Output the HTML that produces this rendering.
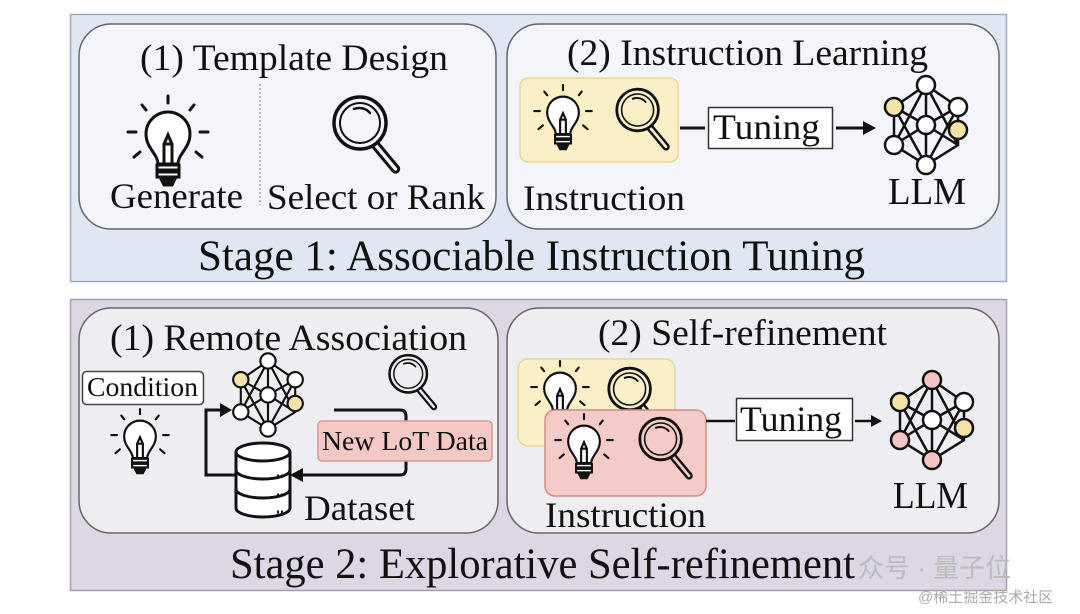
<!DOCTYPE html>
<html><head><meta charset="utf-8"><style>
html,body{margin:0;padding:0;background:#fff;}
svg text{font-family:"Liberation Serif",serif;fill:#111;}
</style></head><body>
<svg width="1080" height="609" viewBox="0 0 1080 609" xmlns="http://www.w3.org/2000/svg">
<defs>
<g id="bulb" fill="none" stroke="#111" stroke-width="3" stroke-linecap="round">
  <path d="M-10,14 C-10,4 -22,-2 -22,-16 A22,22 0 1 1 22,-16 C22,-2 10,4 10,14 Z" fill="#fff"/>
  <rect x="-11" y="15" width="22" height="5" fill="#fff"/>
  <rect x="-11" y="22" width="22" height="5" fill="#fff"/>
  <path d="M-7,29 h14 l-3,6 h-8z" fill="#111"/>
  <path d="M-4,14 v-20 l4,-9 l4,9 v20 M-4,-6 h8"/>
  <path d="M0,-47 v-7 M-22,-40 l-4,-5 M22,-40 l4,-5 M-32,-18 h-8 M32,-18 h8 M-28,2 l-6,5 M28,2 l6,5"/>
</g>
<g id="mag" fill="none" stroke="#111" stroke-width="3.5" stroke-linecap="round">
  <circle cx="-8" cy="-10" r="26"/>
  <circle cx="-8" cy="-10" r="20" stroke-width="2"/>
  <path d="M-14,-24 a14,14 0 0 1 16,4" stroke-width="2.5"/>
  <path d="M10,10 l20,24 a3,3 0 0 1 -5,4 l-20,-24" stroke-width="3"/>
</g>
<g id="netlines" stroke="#111" stroke-width="2.5" fill="none">
  <path d="M0,-40 L-32,-18 L-32,20 L0,40 L32,20 L32,-18 Z M0,-40 L0,0 L0,40 M-32,-18 L0,0 L32,20 M32,-18 L0,0 L-32,20 M0,-40 L-32,20 M0,-40 L32,20 M0,40 L-32,-18 M0,40 L32,-18"/>
</g>
<g id="db" fill="#fff" stroke="#111" stroke-width="3">
  <path d="M-27,-24 v56 a27,9 0 0 0 54,0 v-56"/>
  <ellipse cx="0" cy="-24" rx="27" ry="9"/>
  <path d="M-27,-6 a27,9 0 0 0 54,0 M-27,13 a27,9 0 0 0 54,0" fill="none"/>
  <path d="M14,0 h6 M14,19 h6 M14,36 h6" stroke-dasharray="2 2"/>
</g>
</defs>

<!-- Stage 1 -->
<rect x="70.5" y="14.5" width="936" height="267" fill="#dfe7f4" stroke="#9eaabb" stroke-width="1.5"/>
<rect x="79" y="24" width="417" height="205" rx="32" fill="#f3f5fa" stroke="#666" stroke-width="1.5"/>
<rect x="507" y="24" width="492" height="205" rx="32" fill="#f3f5fa" stroke="#666" stroke-width="1.5"/>
<text x="140" y="70" font-size="37" textLength="308" lengthAdjust="spacingAndGlyphs">(1) Template Design</text>
<use href="#bulb" transform="translate(168,150)"/>
<line x1="260" y1="84" x2="260" y2="205" stroke="#777" stroke-width="1" stroke-dasharray="2 2"/>
<use href="#mag" transform="translate(368,133)"/>
<text x="110" y="208" font-size="36" textLength="133" lengthAdjust="spacingAndGlyphs">Generate</text>
<text x="267" y="209" font-size="36" textLength="218" lengthAdjust="spacingAndGlyphs">Select or Rank</text>

<text x="567" y="65" font-size="37" textLength="361" lengthAdjust="spacingAndGlyphs">(2) Instruction Learning</text>
<rect x="520" y="78" width="158" height="84" rx="8" fill="#fbefc6" stroke="#e6d69c" stroke-width="1.5"/>
<use href="#bulb" transform="translate(563,124) scale(0.72)"/>
<use href="#mag" transform="translate(644,118) scale(0.8)"/>
<line x1="680" y1="128" x2="705" y2="128" stroke="#111" stroke-width="3"/>
<rect x="708.5" y="107.5" width="124" height="41" fill="#fff" stroke="#333" stroke-width="1.5"/>
<text x="713" y="139" font-size="36" textLength="107" lengthAdjust="spacingAndGlyphs">Tuning</text>
<line x1="836" y1="128" x2="864" y2="128" stroke="#111" stroke-width="3"/>
<path d="M876,128 l-13,-7 v14z" fill="#111"/>
<g transform="translate(926,125)">
  <use href="#netlines"/>
  <g stroke="#111" stroke-width="2.5" fill="#fff">
  <circle cx="0" cy="-40" r="9"/><circle cx="-32" cy="-18" r="9" fill="#f3e4a6"/><circle cx="-32" cy="20" r="9"/>
  <circle cx="0" cy="0" r="9"/><circle cx="32" cy="-18" r="9" fill="#fff"/><circle cx="32" cy="5" r="9" fill="#f3e4a6"/><circle cx="0" cy="40" r="9"/>
  </g>
</g>
<text x="888" y="204" font-size="38" textLength="78" lengthAdjust="spacingAndGlyphs">LLM</text>
<text x="523" y="210" font-size="36" textLength="162" lengthAdjust="spacingAndGlyphs">Instruction</text>
<text x="198" y="270" font-size="43" textLength="667" lengthAdjust="spacingAndGlyphs">Stage 1: Associable Instruction Tuning</text>

<!-- Stage 2 -->
<rect x="70.5" y="299.5" width="936" height="291" fill="#ddd6e4" stroke="#a79fb0" stroke-width="1.5"/>
<rect x="79" y="308" width="419" height="225" rx="32" fill="#eeedf1" stroke="#666" stroke-width="1.5"/>
<rect x="507" y="308" width="492" height="225" rx="32" fill="#eeedf1" stroke="#666" stroke-width="1.5"/>
<text x="110" y="350" font-size="37" textLength="357" lengthAdjust="spacingAndGlyphs">(1) Remote Association</text>
<rect x="82.5" y="371.5" width="121" height="33" rx="4" fill="#fff" stroke="#444" stroke-width="1.5"/>
<text x="87" y="396" font-size="27" textLength="111" lengthAdjust="spacingAndGlyphs">Condition</text>
<use href="#bulb" transform="translate(140,448) scale(0.72)"/>
<path d="M240,475 H206 V410 H222" fill="none" stroke="#111" stroke-width="3"/>
<path d="M232,410 l-12,-7 v14z" fill="#111"/>
<g transform="translate(268,395) scale(0.85)">
  <use href="#netlines"/>
  <g stroke="#111" stroke-width="2.5" fill="#fff">
  <circle cx="0" cy="-40" r="9"/><circle cx="-32" cy="-18" r="9" fill="#f3e4a6"/><circle cx="-32" cy="20" r="9"/>
  <circle cx="0" cy="0" r="9"/><circle cx="32" cy="-18" r="9"/><circle cx="32" cy="10" r="9" fill="#f3e4a6"/><circle cx="0" cy="40" r="9"/>
  </g>
</g>
<use href="#mag" transform="translate(414,381) scale(0.72)"/>
<path d="M334,410 H400 q6,0 6,6 V469 q0,6 -6,6 H300" fill="none" stroke="#111" stroke-width="3"/>
<path d="M290,475 l13,-7 v14z" fill="#111"/>
<rect x="318" y="421" width="174" height="40" rx="4" fill="#f4c9c5" stroke="#d89a95" stroke-width="1.5"/>
<text x="322" y="450" font-size="27" textLength="166" lengthAdjust="spacingAndGlyphs">New LoT Data</text>
<use href="#db" transform="translate(263,476)"/>
<text x="304" y="520" font-size="36" textLength="111" lengthAdjust="spacingAndGlyphs">Dataset</text>

<text x="598" y="345" font-size="37" textLength="289" lengthAdjust="spacingAndGlyphs">(2) Self-refinement</text>
<rect x="518" y="359" width="157" height="87" rx="10" fill="#fbefc6" stroke="#e6d69c" stroke-width="1.5"/>
<use href="#bulb" transform="translate(560,400) scale(0.72)"/>
<use href="#mag" transform="translate(636,397) scale(0.8)"/>
<rect x="545" y="410" width="161" height="86" rx="10" fill="#f5cbc7" stroke="#d48c86" stroke-width="1.5"/>
<use href="#bulb" transform="translate(584,453) scale(0.72)"/>
<use href="#mag" transform="translate(667,447) scale(0.8)"/>
<line x1="706" y1="421" x2="735" y2="421" stroke="#111" stroke-width="2.5"/>
<rect x="736.5" y="398.5" width="116" height="42" fill="#fff" stroke="#333" stroke-width="1.5"/>
<text x="740" y="431" font-size="36" textLength="102" lengthAdjust="spacingAndGlyphs">Tuning</text>
<line x1="855" y1="421" x2="872" y2="421" stroke="#111" stroke-width="2.5"/>
<path d="M882,421 l-11,-6 v12z" fill="#111"/>
<g transform="translate(932,420)">
  <use href="#netlines"/>
  <g stroke="#111" stroke-width="2.5" fill="#fff">
  <circle cx="0" cy="-40" r="9" fill="#f3c4c4"/><circle cx="-32" cy="-18" r="9" fill="#f3e4a6"/><circle cx="-32" cy="20" r="9" fill="#f3c4c4"/>
  <circle cx="0" cy="0" r="9"/><circle cx="32" cy="-18" r="9" fill="#fff"/><circle cx="32" cy="8" r="9" fill="#f3e4a6"/><circle cx="0" cy="40" r="9" fill="#f3c4c4"/>
  </g>
</g>
<text x="893" y="508" font-size="38" textLength="75" lengthAdjust="spacingAndGlyphs">LLM</text>
<text x="545" y="527" font-size="36" textLength="161" lengthAdjust="spacingAndGlyphs">Instruction</text>
<text x="230" y="578" font-size="43" textLength="625" lengthAdjust="spacingAndGlyphs">Stage 2: Explorative Self-refinement</text>
<text x="858" y="577" font-size="26" style="font-family:'Liberation Sans','Noto Sans CJK SC',sans-serif;fill:#bbb">众号 · 量子位</text>
<text x="918" y="602" font-size="15" style="font-family:'Liberation Sans','Noto Sans CJK SC',sans-serif;fill:#aaa">@稀土掘金技术社区</text>
</svg>
</body></html>
